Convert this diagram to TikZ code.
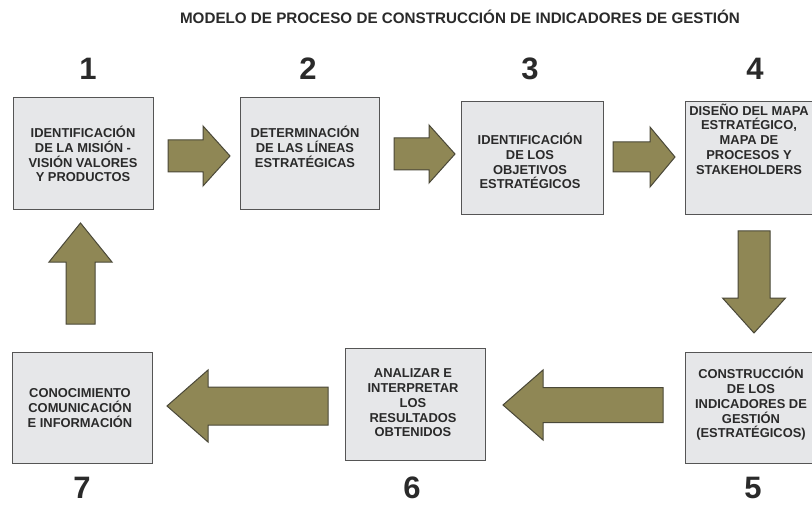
\documentclass[tikz,border=0pt]{standalone}
\usepackage{fontspec}
\setmainfont{Liberation Sans}
\definecolor{boxfill}{HTML}{E6E7E9}
\definecolor{boxline}{HTML}{555555}
\definecolor{arrfill}{HTML}{8F8755}
\definecolor{arrline}{HTML}{4A4838}
\definecolor{txt}{HTML}{2A2A2A}
\begin{document}
\begin{tikzpicture}[x=1pt,y=-1pt,
  box/.style={draw=boxline, fill=boxfill, line width=1pt, inner sep=0pt},
  boxtext/.style={align=center, font=\fontsize{12.9}{14.8}\selectfont\bfseries, text=txt, inner sep=0pt},
  num/.style={font=\fontsize{31}{31}\selectfont\bfseries, text=txt, inner sep=0pt},
  titletext/.style={font=\fontsize{15.2}{16}\selectfont\bfseries, text=txt, inner sep=0pt},
  arrowshape/.style={draw=arrline, fill=arrfill, line width=1pt, line join=miter},
  pics/barrow/.style n args={4}{code={%
    \draw[arrowshape] (-#1/2,-#2) -- (#1/2-#4,-#2) -- (#1/2-#4,-#3) -- (#1/2,0)
      -- (#1/2-#4,#3) -- (#1/2-#4,#2) -- (-#1/2,#2) -- cycle;}}
]
\useasboundingbox (0,0) rectangle (812,516);
\clip (0,0) rectangle (812,516);
\fill[white] (0,0) rectangle (812,516);

% title
\node[titletext] (title) at (460,17) {MODELO DE PROCESO DE CONSTRUCCIÓN DE INDICADORES DE GESTIÓN};

% boxes
\node[box, minimum width=140pt, minimum height=112pt] (b1) at (83,154) {};
\node[box, minimum width=139pt, minimum height=112pt] (b2) at (309.5,154) {};
\node[box, minimum width=142pt, minimum height=113pt] (b3) at (532,158.5) {};
\node[box, minimum width=145pt, minimum height=113pt] (b4) at (757.5,158.5) {};
\node[box, minimum width=145pt, minimum height=111pt] (b5) at (757.5,407.5) {};
\node[box, minimum width=140pt, minimum height=112pt] (b6) at (415,404) {};
\node[box, minimum width=140pt, minimum height=111pt] (b7) at (82,407.5) {};

% box texts
\node[boxtext] (t1) at (83,154) {IDENTIFICACIÓN\\DE LA MISIÓN -\\VISIÓN VALORES\\Y PRODUCTOS};
\node[boxtext] (t2) at (305,147) {DETERMINACIÓN\\DE LAS LÍNEAS\\ESTRATÉGICAS};
\node[boxtext] (t3) at (530,161) {IDENTIFICACIÓN\\DE LOS\\OBJETIVOS\\ESTRATÉGICOS};
\node[boxtext] (t4) at (749,139) {DISEÑO DEL MAPA\\ESTRATÉGICO,\\MAPA DE\\PROCESOS Y\\STAKEHOLDERS};
\node[boxtext] (t5) at (751,404) {CONSTRUCCIÓN\\DE LOS\\INDICADORES DE\\GESTIÓN\\(ESTRATÉGICOS)};
\node[boxtext] (t6) at (413,403) {ANALIZAR E\\INTERPRETAR\\LOS\\RESULTADOS\\OBTENIDOS};
\node[boxtext] (t7) at (80,408) {CONOCIMIENTO\\COMUNICACIÓN\\E INFORMACIÓN};

% numbers
\node[num] (n1) at (88,69) {1};
\node[num] (n2) at (308,69) {2};
\node[num] (n3) at (530,69) {3};
\node[num] (n4) at (755,69) {4};
\node[num] (n5) at (753,488) {5};
\node[num] (n6) at (412,488) {6};
\node[num] (n7) at (82,488) {7};

% block arrows
\pic (a12) at (199,156) {barrow={62}{16}{30}{27}};
\pic (a23) at (424.5,154) {barrow={61}{16}{29}{26}};
\pic (a34) at (644,157) {barrow={62}{15}{30}{25}};
\pic[rotate=-90] (a45) at (754,282) {barrow={102}{16}{31.5}{35}};
\pic[rotate=180] (a56) at (583,405) {barrow={160}{17.5}{35}{40}};
\pic[rotate=180] (a67) at (247.5,406) {barrow={161}{19}{36}{41}};
\pic[rotate=90] (a71) at (80.5,273.5) {barrow={101}{14.5}{31.5}{39}};
\end{tikzpicture}
\end{document}
